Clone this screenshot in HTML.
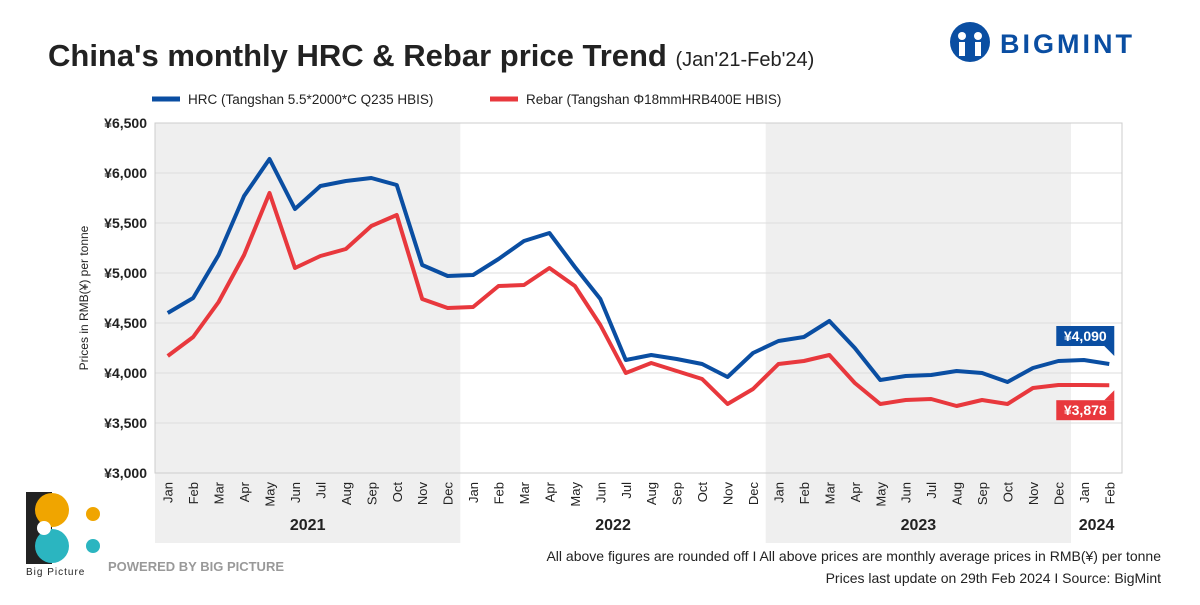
<!DOCTYPE html>
<html><head><meta charset="utf-8"><style>
body{margin:0;width:1200px;height:600px;background:#fff;font-family:"Liberation Sans",sans-serif;overflow:hidden}
</style></head><body>
<svg width="1200" height="600" xmlns="http://www.w3.org/2000/svg">
<text x="48" y="66" font-size="31" font-weight="bold" fill="#222">China's monthly HRC &amp; Rebar price Trend <tspan font-size="20" font-weight="normal">(Jan'21-Feb'24)</tspan></text>
<g>
<circle cx="970" cy="42" r="20" fill="#0a4ea2"/>
<circle cx="962" cy="36" r="4" fill="#fff"/><circle cx="978" cy="36" r="4" fill="#fff"/>
<rect x="959" y="42" width="6" height="14" fill="#fff"/><rect x="975" y="42" width="6" height="14" fill="#fff"/>
<text x="1000" y="53" font-size="27" font-weight="bold" fill="#0a4ea2" letter-spacing="3">BIGMINT</text>
</g>
<g>
<line x1="152" y1="99" x2="180" y2="99" stroke="#0a4ea2" stroke-width="5"/>
<text x="188" y="104" font-size="13.5" fill="#222">HRC (Tangshan 5.5*2000*C Q235 HBIS)</text>
<line x1="490" y1="99" x2="518" y2="99" stroke="#e8383d" stroke-width="5"/>
<text x="526" y="104" font-size="13.5" fill="#222">Rebar (Tangshan Φ18mmHRB400E HBIS)</text>
</g>
<g id="bands"></g>
<g id="grid"></g>
<g id="axes"></g>
<g id="lines"></g>
<text transform="translate(88,298) rotate(-90)" text-anchor="middle" font-size="12" fill="#222">Prices in RMB(¥) per tonne</text>
<g>
<rect x="26" y="492" width="26" height="72" fill="#222"/>
<circle cx="52" cy="510" r="17" fill="#f0a500"/>
<circle cx="52" cy="546" r="17" fill="#2bb5c0"/>
<circle cx="44" cy="528" r="7" fill="#fff"/>
<circle cx="93" cy="514" r="7" fill="#f0a500"/>
<circle cx="93" cy="546" r="7" fill="#2bb5c0"/>
<text x="26" y="575" font-size="10" fill="#222" letter-spacing="1">Big Picture</text>
<text x="108" y="571" font-size="13" font-weight="bold" fill="#999">POWERED BY BIG PICTURE</text>
</g>
<text x="1161" y="561" text-anchor="end" font-size="14" fill="#222">All above figures are rounded off  I  All above prices are monthly average prices in RMB(¥) per tonne</text>
<text x="1161" y="583" text-anchor="end" font-size="14" fill="#222">Prices last update on 29th Feb 2024  I  Source: BigMint</text>
</svg>
<script>
const months=["Jan","Feb","Mar","Apr","May","Jun","Jul","Aug","Sep","Oct","Nov","Dec"];
const years=["2021","2022","2023","2024"];
const yTicks=[3000,3500,4000,4500,5000,5500,6000,6500];
const hrc=[4600,4750,5180,5770,6140,5640,5870,5920,5950,5880,5080,4970,4980,5140,5320,5400,5060,4740,4130,4180,4140,4090,3960,4200,4320,4360,4520,4250,3930,3970,3980,4020,4000,3910,4050,4120,4130,4090];
const rebar=[4170,4360,4710,5180,5800,5050,5170,5240,5470,5580,4740,4650,4660,4870,4880,5050,4870,4480,4000,4100,4020,3940,3690,3840,4090,4120,4180,3900,3690,3730,3740,3670,3730,3690,3850,3880,3880,3878];
const NS="http://www.w3.org/2000/svg";
const L=155,R=1122,T=123,B=473,N=hrc.length;
const slot=(R-L)/N;
const X=i=>L+slot*(i+0.5);
const Y=v=>B-(v-3000)/3500*(B-T);
function mk(tag,attrs,parent,text){const e=document.createElementNS(NS,tag);for(const k in attrs)e.setAttribute(k,attrs[k]);if(text!==undefined)e.textContent=text;document.getElementById(parent).appendChild(e);return e;}
// bands
years.forEach((yr,k)=>{
 const s=k*12,cnt=Math.min(12,N-s);
 const x0=L+s*slot,w=cnt*slot;
 const fill=(k%2===0&&k<3)?"#efefef":"#fff";
 const b=mk("rect",{x:x0,y:T,width:w,height:B-T,fill:fill},"bands");
 
 
 const b2=mk("rect",{x:x0,y:473,width:w,height:70,fill:fill},"bands");
 
 
 const t=mk("text",{x:x0+w/2,y:530,"text-anchor":"middle","font-size":16,"font-weight":"bold",fill:"#222"},"axes",yr);
 
 
});
yTicks.forEach(v=>{
 const g=mk("line",{x1:L,x2:R,y1:Y(v),y2:Y(v),stroke:"#ddd","stroke-width":1},"grid");
 
 
 const t=mk("text",{x:L-8,y:Y(v)+5,"text-anchor":"end","font-size":14,"font-weight":"bold",fill:"#222"},"axes","¥"+v.toLocaleString("en-US"));
 
 
});
const fr=mk("rect",{x:L,y:T,width:R-L,height:B-T,fill:"none",stroke:"#ccc"},"grid");


for(let i=0;i<N;i++){
 const t=mk("text",{transform:`translate(${X(i)+5},482) rotate(-90)`,"text-anchor":"end","font-size":13,fill:"#222"},"axes",months[i%12]);
 
 
}
function series(arr,color,name){
 const p=mk("polyline",{points:arr.map((v,i)=>X(i)+","+Y(v)).join(" "),fill:"none",stroke:color,"stroke-width":4,"stroke-linejoin":"round"},"lines");
 
 
}
series(rebar,"#e8383d","rebar-line");
series(hrc,"#0a4ea2","hrc-line");
function tag(v,color,y,name,up){
 const xe=X(N-1)+5,w=58,x0=xe-w;
 const r=mk("rect",{x:x0,y:y,width:w,height:20,fill:color},"lines");
 
 
 const py=up?y+20:y;
 mk("polygon",{points:`${xe-10},${py} ${xe},${py} ${xe},${up?py+10:py-10}`,fill:color},"lines");
 const t=mk("text",{x:x0+w/2,y:y+15,"text-anchor":"middle","font-size":14,"font-weight":"bold",fill:"#fff"},"lines","¥"+v.toLocaleString("en-US"));
 
 
}
tag(hrc[N-1],"#0a4ea2",Y(hrc[N-1])-38,"hrc-last-value",true);
tag(rebar[N-1],"#e8383d",Y(rebar[N-1])+15,"rebar-last-value",false);
</script>
</body></html>
